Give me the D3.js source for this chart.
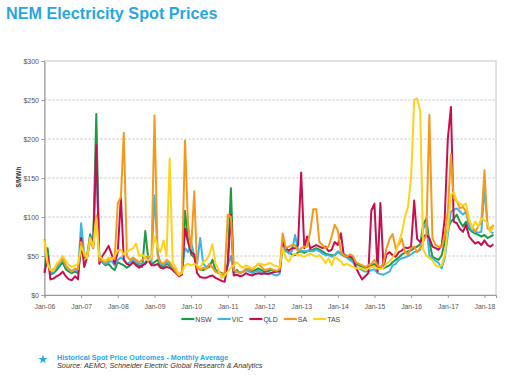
<!DOCTYPE html>
<html>
<head>
<meta charset="utf-8">
<script src="https://cdn.jsdelivr.net/npm/d3@7"></script>
<style>
  body { margin: 0; background: #fff; }
  svg { display: block; font-family: "Liberation Sans", Arial, sans-serif; }
</style>
</head>
<body>
<svg id="chart" width="505" height="375"></svg>
<script>
// monthly average spot price, $/MWh, Jan-06 .. Apr-18 (one row per year)
const nsw = [
  30, 60, 26, 28, 32, 37, 42, 33, 30, 28, 30, 28,
  60, 48, 50, 78, 64, 232, 48, 42, 38, 40, 35, 32,
  42, 40, 38, 35, 38, 42, 40, 38, 36, 82, 45, 40,
  42, 45, 38, 36, 40, 38, 34, 30, 25, 28, 108, 70,
  52, 48, 35, 33, 32, 34, 36, 45, 32, 30, 28, 26,
  40, 137, 30, 32, 28, 30, 32, 33, 30, 32, 34, 32,
  30, 30, 32, 31, 30, 32, 64, 56, 55, 52, 51, 55,
  56, 54, 56, 58, 58, 60, 58, 56, 53, 52, 51, 51,
  55, 54, 52, 50, 48, 45, 40, 38, 36, 35, 36, 38,
  40, 35, 36, 34, 36, 38, 42, 45, 48, 52, 54, 56,
  57, 60, 62, 65, 90, 98, 68, 49, 47, 45, 51, 68,
  85, 94, 98, 103, 94, 88, 94, 85, 81, 79, 77, 75,
  77, 73, 75, 77
];
const vic = [
  32, 45, 28, 30, 35, 40, 46, 37, 33, 31, 33, 30,
  92, 52, 48, 74, 60, 185, 45, 42, 40, 42, 44, 38,
  45, 48, 45, 40, 42, 45, 42, 40, 40, 42, 48, 42,
  128, 55, 40, 38, 42, 40, 35, 32, 26, 30, 60, 55,
  68, 50, 40, 73, 40, 36, 38, 36, 30, 28, 26, 25,
  38, 50, 28, 30, 28, 30, 32, 30, 28, 30, 31, 29,
  28, 27, 28, 26, 25, 27, 63, 58, 53, 56, 77, 58,
  57, 56, 56, 56, 56, 58, 56, 53, 51, 51, 49, 51,
  56, 52, 50, 48, 45, 42, 36, 34, 32, 30, 30, 32,
  33, 28, 27, 26, 28, 30, 38, 40, 45, 47, 48, 50,
  52, 55, 56, 58, 85, 92, 51, 47, 44, 41, 34, 47,
  77, 107, 109, 111, 107, 103, 107, 88, 83, 81, 80, 81,
  137, 88, 81, 79
];
const qld = [
  28, 50, 20, 21, 24, 26, 30, 24, 20, 19, 24, 20,
  73, 36, 48, 70, 62, 192, 40, 50, 56, 63, 52, 40,
  55, 126, 45, 40, 38, 42, 38, 35, 38, 40, 45, 38,
  38, 40, 35, 34, 36, 35, 32, 28, 24, 26, 85, 68,
  55, 52, 28, 23, 22, 22, 24, 25, 22, 20, 18, 17,
  40, 103, 25, 26, 24, 25, 28, 26, 25, 27, 28, 27,
  28, 27, 28, 29, 30, 30, 68, 60, 57, 60, 60, 64,
  157, 60, 75, 60, 62, 64, 62, 60, 62, 56, 58, 68,
  64, 79, 51, 49, 50, 48, 35, 27, 20, 24, 28, 108,
  117, 30, 118, 36, 52, 55, 51, 49, 55, 57, 61, 60,
  62, 121, 72, 68, 75, 77, 73, 62, 60, 58, 64, 98,
  200, 241, 94, 92, 85, 81, 90, 75, 70, 66, 68, 64,
  70, 64, 62, 65
];
const sa = [
  72, 42, 32, 33, 38, 42, 48, 38, 33, 30, 34, 33,
  68, 50, 50, 72, 60, 102, 44, 45, 42, 45, 48, 46,
  118, 125, 208, 50, 45, 48, 45, 42, 45, 48, 50, 45,
  230, 50, 42, 40, 45, 42, 36, 30, 25, 30, 198, 90,
  60, 133, 35, 32, 35, 33, 40, 35, 30, 28, 27, 28,
  103, 100, 32, 30, 28, 30, 34, 33, 32, 36, 40, 36,
  32, 33, 34, 32, 31, 33, 79, 60, 62, 64, 64, 56,
  60, 62, 62, 81, 110, 110, 68, 64, 60, 62, 75, 90,
  83, 55, 51, 49, 52, 50, 42, 40, 38, 36, 38, 40,
  45, 38, 36, 40, 60, 72, 78, 60, 65, 72, 55, 52,
  60, 62, 55, 60, 68, 77, 231, 73, 64, 62, 62, 77,
  107, 180, 124, 120, 111, 113, 107, 94, 88, 81, 88, 94,
  160, 85, 85, 90
];
const tas = [
  70, 40, 32, 31, 40, 44, 50, 44, 38, 36, 38, 40,
  62, 54, 47, 73, 62, 98, 50, 46, 44, 48, 45, 50,
  57, 58, 52, 55, 58, 60, 66, 50, 52, 47, 44, 48,
  75, 62, 55, 70, 50, 175, 42, 35, 26, 28, 38, 40,
  38, 40, 38, 35, 42, 45, 52, 65, 40, 32, 22, 25,
  30, 35, 38, 42, 38, 35, 38, 36, 34, 36, 40, 40,
  38, 40, 41, 38, 37, 36, 60, 47, 43, 50, 53, 51,
  51, 49, 51, 53, 51, 49, 51, 47, 41, 47, 38, 49,
  46, 43, 38, 40, 38, 36, 34, 35, 34, 32, 34, 36,
  36, 34, 33, 35, 40, 43, 48, 55, 68, 80, 100, 113,
  150, 250, 252, 236, 58, 51, 47, 45, 38, 36, 38, 51,
  85, 128, 132, 120, 117, 115, 117, 98, 85, 94, 88, 98,
  96, 92, 81, 88
];

const regions = ['NSW', 'VIC', 'QLD', 'SA', 'TAS'];
const regionValues = [nsw, vic, qld, sa, tas];
const regionColours = ['#1e9a45', '#3cb4e5', '#c5104f', '#f39a1e', '#fdd21c'];
const yTicks = [0, 50, 100, 150, 200, 250, 300];

const months = d3.timeMonth.range(new Date(2006, 0, 1), new Date(2018, 4, 1));

let svg = d3.select('#chart');

let plotLeft = 44.5, plotRight = 496, plotTop = 61, plotBottom = 295;

let x = d3.scaleTime()
      .domain([new Date(2006, 0, 1), new Date(2018, 3, 26)])
      .range([plotLeft, plotRight]);
let y = d3.scaleLinear()
      .domain([0, 300])
      .range([plotBottom, plotTop]);

// title
svg.append('text')
    .attr('x', 6).attr('y', 19)
    .attr('font-size', 16.2).attr('font-weight', 'bold')
    .attr('fill', '#2aa6dc')
    .text('NEM Electricity Spot Prices');

// gridlines
svg.append('g')
    .selectAll('line')
    .data(yTicks.filter(d => d > 0 && d < 300))
    .enter().append('line')
    .attr('x1', plotLeft).attr('x2', plotRight)
    .attr('y1', d => y(d)).attr('y2', d => y(d))
    .attr('stroke', '#a6a6a6')
    .attr('stroke-width', 0.7)
    .attr('stroke-dasharray', '2,2');

// plot frame
svg.append('rect')
    .attr('x', plotLeft).attr('y', plotTop)
    .attr('width', plotRight - plotLeft).attr('height', plotBottom - plotTop)
    .attr('fill', 'none')
    .attr('stroke', '#c4c4c4')
    .attr('stroke-width', 1);

// y axis
let yAxis = svg.append('g')
    .attr('transform', `translate(${plotLeft},0)`)
    .call(d3.axisLeft(y).tickValues(yTicks).tickFormat(d => '$' + d).tickSize(3).tickPadding(2.5));
yAxis.select('.domain').attr('stroke', '#999');
yAxis.selectAll('line').attr('stroke', '#999');
yAxis.selectAll('text').attr('font-size', 7).attr('fill', '#555').attr('font-family', null);

svg.append('text')
    .attr('transform', 'translate(21,177) rotate(-90)')
    .attr('text-anchor', 'middle')
    .attr('font-size', 6.5).attr('font-weight', 'bold')
    .attr('fill', '#333')
    .text('$/MWh');

// x axis
let xAxis = svg.append('g')
    .attr('transform', `translate(0,${plotBottom})`)
    .call(d3.axisBottom(x).ticks(d3.timeYear.every(1)).tickFormat(d3.timeFormat('%b-%y')).tickSize(3).tickPadding(6));
xAxis.select('.domain').attr('stroke', '#999');
xAxis.selectAll('line').attr('stroke', '#999');
xAxis.selectAll('text').attr('font-size', 6.8).attr('fill', '#555').attr('font-family', null);

// series
let line = d3.line()
    .x((d, i) => x(months[i]))
    .y(d => y(d));

svg.append('g')
    .selectAll('path')
    .data(regionValues)
    .enter().append('path')
    .attr('d', d => line(d))
    .attr('fill', 'none')
    .attr('stroke', (d, i) => regionColours[i])
    .attr('stroke-width', 2)
    .attr('stroke-linejoin', 'round');

// legend
let legend = svg.append('g').attr('class', 'legend');
let lx = 0;
regions.forEach(function(name, i) {
  let item = legend.append('g').attr('transform', `translate(${lx},0)`);
  item.append('line')
      .attr('x1', 0).attr('x2', 13)
      .attr('y1', 0).attr('y2', 0)
      .attr('stroke', regionColours[i])
      .attr('stroke-width', 2.2);
  let t = item.append('text')
      .attr('x', 14).attr('y', 2.5)
      .attr('font-size', 7).attr('fill', '#444')
      .text(name);
  lx += 14 + t.node().getComputedTextLength() + 6;
});
lx -= 6;
legend.attr('transform', `translate(${260.8 - lx / 2},319)`);

// footer
svg.append('path')
    .attr('d', d3.symbol(d3.symbolStar, 26)())
    .attr('transform', 'translate(43,359.5)')
    .attr('fill', '#2aa6dc');
svg.append('text')
    .attr('x', 57).attr('y', 359.5)
    .attr('font-size', 7.2).attr('font-weight', 'bold')
    .attr('fill', '#2aa6dc')
    .text('Historical Spot Price Outcomes - Monthly Average');
svg.append('text')
    .attr('x', 57).attr('y', 367.5)
    .attr('font-size', 7.3).attr('font-style', 'italic')
    .attr('fill', '#333')
    .text('Source: AEMO, Schneider Electric Global Research & Analytics');
</script>
</body>
</html>
